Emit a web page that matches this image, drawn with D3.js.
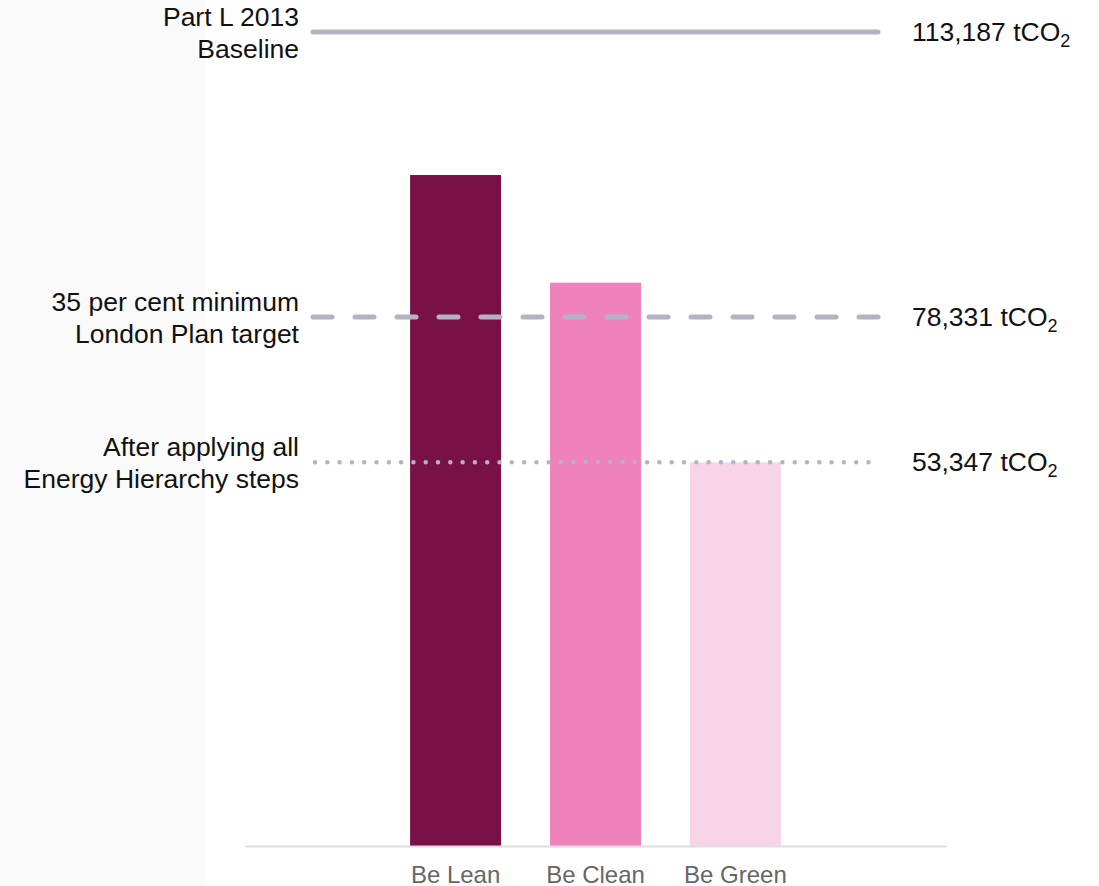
<!DOCTYPE html>
<html>
<head>
<meta charset="utf-8">
<script src="https://cdn.jsdelivr.net/npm/d3@7"></script>
<style>
  html, body { margin: 0; padding: 0; background: #fff; }
  svg { display: block; font-family: "Liberation Sans", Arial, sans-serif; }
</style>
</head>
<body>
<svg id="chart" width="1099" height="886"></svg>
<script>
// ---- data ----
const categories = ["Be Lean", "Be Clean", "Be Green"];
const barValues = [93300, 78331, 53347];
const barColors = ["#7a1048", "#ef82bd", "#f8d4e9"];

const refLabelLines = [
  ["Part L 2013", "Baseline"],
  ["35 per cent minimum", "London Plan target"],
  ["After applying all", "Energy Hierarchy steps"]
];
const refLineValues = [113187, 73571, 53347];   // drawn positions
const refValueLabels = ["113,187", "78,331", "53,347"];
const refStyles = ["solid", "dashed", "dotted"];

// ---- layout ----
const W = 1099, H = 886;
const svg = d3.select("#chart");

svg.append("rect").attr("x", 0).attr("y", 0).attr("width", 205).attr("height", H).attr("fill", "#fafafa");

const y = d3.scaleLinear().domain([0, 113187]).range([846, 32]);
const x = d3.scaleBand().domain(categories).range([245, 946]).paddingInner(0.35).paddingOuter(1.18);

// bars
svg.append("g").selectAll("rect").data(categories).join("rect")
  .attr("x", d => x(d))
  .attr("width", x.bandwidth())
  .attr("y", (d, i) => y(barValues[i]))
  .attr("height", (d, i) => y(0) - y(barValues[i]))
  .attr("fill", (d, i) => barColors[i]);

// axis
const axis = svg.append("g").attr("transform", "translate(0,846)")
  .call(d3.axisBottom(x).tickSize(0).tickPadding(20).tickSizeOuter(0));
axis.select(".domain").attr("stroke", "#dddddd").attr("stroke-width", 2);
axis.selectAll("text").attr("font-size", 24).attr("fill", "#666666")
  .attr("font-family", "'Liberation Sans', Arial, sans-serif");

// reference lines
const lineX0 = 313, lineX1 = 878;
const refColor = "#b5b3c3";
const rg = svg.append("g");
refLineValues.forEach((v, i) => {
  const yy = y(v);
  const style = refStyles[i];
  const ln = rg.append("line")
    .attr("x1", style === "dotted" ? 315 : lineX0)
    .attr("x2", style === "dotted" ? 870 : lineX1)
    .attr("y1", yy).attr("y2", yy)
    .attr("stroke", refColor)
    .attr("stroke-linecap", "round");
  if (style === "solid") ln.attr("stroke-width", 5);
  if (style === "dashed") ln.attr("stroke-width", 5).attr("stroke-dasharray", "19,23");
  if (style === "dotted") ln.attr("stroke-width", 4.5).attr("stroke-dasharray", "0,12.3");

  // left label
  const t = rg.append("text")
    .attr("x", 299).attr("text-anchor", "end")
    .attr("font-size", 26.5).attr("fill", "#111");
  refLabelLines[i].forEach((s, j) => {
    t.append("tspan").attr("x", 299).attr("y", yy - 6 + j * 32).text(s);
  });

  // right value label
  const r = rg.append("text")
    .attr("x", 912).attr("y", yy + 9)
    .attr("font-size", 26.5).attr("fill", "#111");
  r.append("tspan").text(refValueLabels[i] + " tCO");
  r.append("tspan").attr("font-size", 18).attr("dy", 6).text("2");
});
</script>
</body>
</html>
